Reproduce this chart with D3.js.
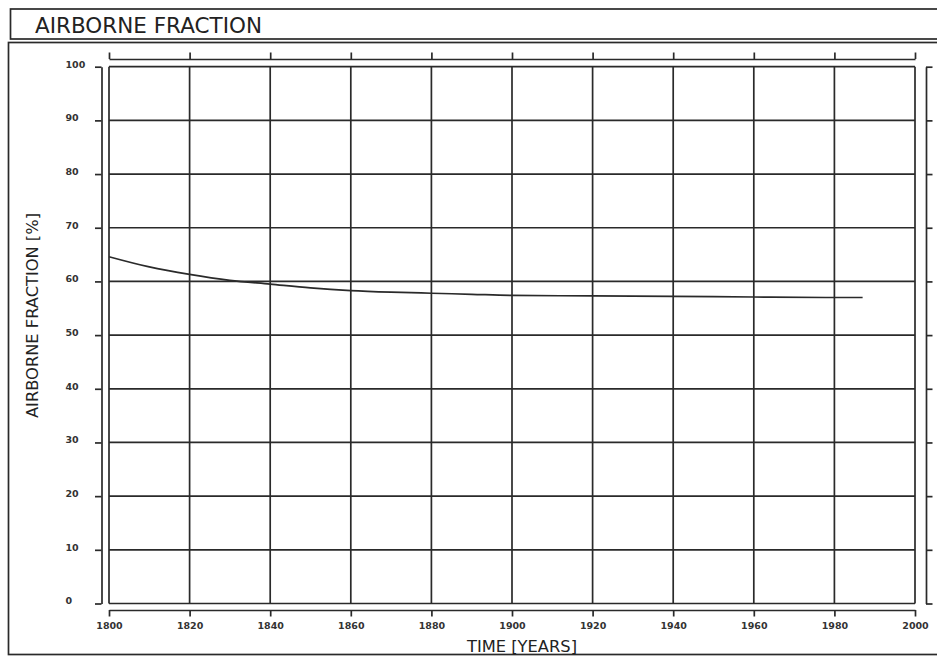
<!DOCTYPE html>
<html>
<head>
<meta charset="utf-8">
<script src="https://cdn.jsdelivr.net/npm/d3@7"></script>
<style>
  html, body { margin: 0; padding: 0; background: #fff; }
  svg { display: block; }
  .axis path, .axis line { stroke: #2a2a2a; stroke-width: 1.7; }
  .axis text { font-family: "DejaVu Sans", sans-serif; font-weight: bold; font-size: 9.5px; fill: #333; }
</style>
</head>
<body>
<svg id="chart" width="937" height="659"></svg>
<script>
// Airborne fraction of CO2 emissions, 1800-1987
const years  = [1800, 1810, 1820, 1830, 1840, 1850, 1860, 1870, 1880, 1890, 1900, 1920, 1940, 1960, 1980, 1987];
const values = [64.6, 62.7, 61.3, 60.2, 59.5, 58.8, 58.3, 58.0, 57.8, 57.6, 57.4, 57.3, 57.2, 57.1, 57.0, 57.0];

const xTicks = [1800, 1820, 1840, 1860, 1880, 1900, 1920, 1940, 1960, 1980, 2000];
const yTicks = [0, 10, 20, 30, 40, 50, 60, 70, 80, 90, 100];

const titleText  = "AIRBORNE FRACTION";
const yAxisTitle = "AIRBORNE FRACTION [%]";
const xAxisTitle = "TIME [YEARS]";

const svg = d3.select("#chart");
const ink = "#2a2a2a";

const x = d3.scaleLinear().domain([1800, 2000]).range([109, 915]);
const y = d3.scaleLinear().domain([0, 100]).range([603.5, 66.7]);

// Outer frame: title box and chart box
svg.append("rect").attr("x", 10.5).attr("y", 9).attr("width", 940).attr("height", 30)
  .attr("fill", "none").attr("stroke", ink).attr("stroke-width", 1.7);
svg.append("rect").attr("x", 8.5).attr("y", 42.5).attr("width", 940).attr("height", 612)
  .attr("fill", "none").attr("stroke", ink).attr("stroke-width", 1.7);

svg.append("text").attr("x", 35).attr("y", 33)
  .attr("font-family", "DejaVu Sans, sans-serif").attr("font-size", 21)
  .attr("textLength", 227).attr("lengthAdjust", "spacingAndGlyphs")
  .attr("fill", "#222").text(titleText);

// Grid
const grid = svg.append("g").attr("stroke", ink).attr("stroke-width", 1.7);
grid.selectAll("line.v").data(xTicks).join("line").attr("class", "v")
  .attr("x1", d => x(d)).attr("x2", d => x(d))
  .attr("y1", y(100)).attr("y2", y(0));
grid.selectAll("line.h").data(yTicks).join("line").attr("class", "h")
  .attr("x1", x(1800)).attr("x2", x(2000))
  .attr("y1", d => y(d)).attr("y2", d => y(d));

// Offset axes on all four sides
const tick = 6.5;
svg.append("g").attr("class", "axis").attr("transform", "translate(0,59)")
  .call(d3.axisTop(x).tickValues(xTicks).tickSize(tick).tickSizeOuter(0).tickFormat(""));
svg.append("g").attr("class", "axis").attr("transform", "translate(0,610)")
  .call(d3.axisBottom(x).tickValues(xTicks).tickSize(tick).tickSizeOuter(0).tickPadding(6).tickFormat(d3.format("d")));
const yl = svg.append("g").attr("class", "axis").attr("transform", "translate(101.5,0)")
  .call(d3.axisLeft(y).tickValues(yTicks).tickSize(tick).tickSizeOuter(0).tickFormat(d3.format("d")));
yl.selectAll("text").attr("text-anchor", "start").attr("x", -36).attr("dy", "0.05em");
svg.append("g").attr("class", "axis").attr("transform", "translate(926,0)")
  .call(d3.axisRight(y).tickValues(yTicks).tickSize(tick).tickSizeOuter(0).tickFormat(""));

// Curve
const line = d3.line().x((d, i) => x(years[i])).y(d => y(d)).curve(d3.curveMonotoneX);
svg.append("path").datum(values).attr("d", line)
  .attr("fill", "none").attr("stroke", ink).attr("stroke-width", 1.7);

// Axis titles
svg.append("text").attr("x", 522).attr("y", 652).attr("text-anchor", "middle")
  .attr("font-family", "DejaVu Sans, sans-serif").attr("font-size", 15.5)
  .attr("textLength", 110).attr("lengthAdjust", "spacingAndGlyphs")
  .attr("fill", "#222").text(xAxisTitle);
svg.append("text").attr("transform", "translate(38,315.5) rotate(-90)").attr("text-anchor", "middle")
  .attr("font-family", "DejaVu Sans, sans-serif").attr("font-size", 15)
  .attr("textLength", 205).attr("lengthAdjust", "spacingAndGlyphs")
  .attr("fill", "#222").text(yAxisTitle);
</script>
</body>
</html>
